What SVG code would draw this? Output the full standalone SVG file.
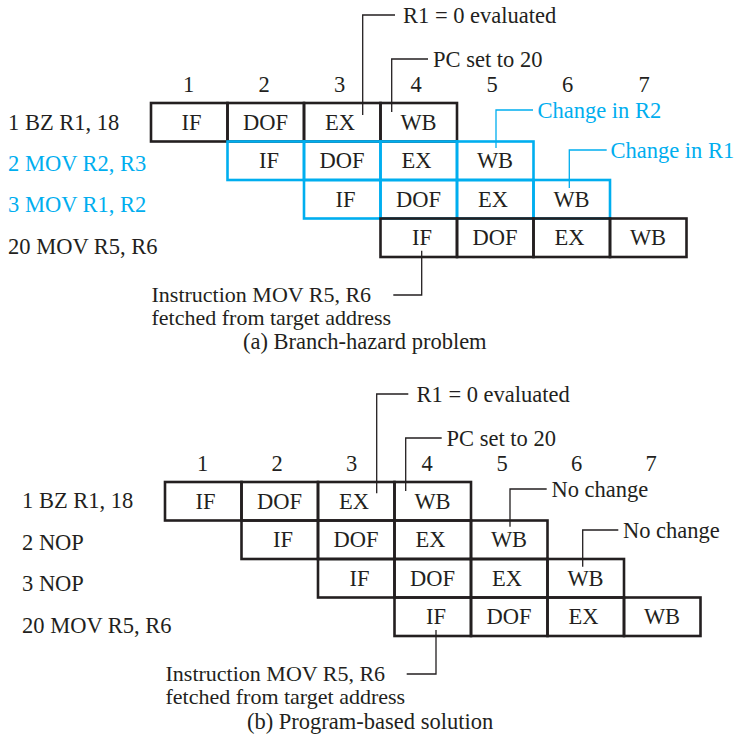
<svg xmlns="http://www.w3.org/2000/svg" width="735" height="743" viewBox="0 0 735 743">
<style>
.bg{fill:#ffffff}
.cell{fill:none;stroke:#231f20;stroke-width:2.6}
.cellb{fill:none;stroke:#00aeef;stroke-width:2.6}
.t{font-family:"Liberation Serif","Times New Roman",serif;font-size:22.5px;fill:#231f20}
.f{font-size:22px}
.m{text-anchor:middle}
.blue{fill:#00aeef}
.lead{fill:none;stroke:#231f20;stroke-width:1.3}
.leadb{fill:none;stroke:#00aeef;stroke-width:1.3}
</style>
<rect class="bg" x="0" y="0" width="735" height="743"/>

<!-- ============ (a) Branch-hazard problem ============ -->
<g id="a-cycles">
<text class="t m" x="188.5" y="92">1</text>
<text class="t m" x="264" y="92">2</text>
<text class="t m" x="339.5" y="92">3</text>
<text class="t m" x="416" y="92">4</text>
<text class="t m" x="492" y="92">5</text>
<text class="t m" x="567.5" y="92">6</text>
<text class="t m" x="644" y="92">7</text>
</g>

<g id="a-label1"><text class="t" x="8" y="129.5">1 BZ R1, 18</text></g>
<g id="a-label2"><text class="t blue" x="8" y="171">2 MOV R2, R3</text></g>
<g id="a-label3"><text class="t blue" x="8" y="212">3 MOV R1, R2</text></g>
<g id="a-label4"><text class="t" x="8" y="254">20 MOV R5, R6</text></g>

<g id="a-row1">
<rect class="cell" x="151" y="103" width="76.5" height="38.5"/>
<rect class="cell" x="227.5" y="103" width="76.5" height="38.5"/>
<rect class="cell" x="304" y="103" width="76.5" height="38.5"/>
<rect class="cell" x="380.5" y="103" width="76.5" height="38.5"/>
<text class="t m" x="191.5" y="129.75">IF</text>
<text class="t m" x="265.5" y="129.75">DOF</text>
<text class="t m" x="340" y="129.75">EX</text>
<text class="t m" x="418.5" y="129.75">WB</text>
</g>

<g id="a-row2">
<rect class="cellb" x="227.5" y="141.5" width="76.5" height="38.5"/>
<rect class="cellb" x="304" y="141.5" width="76.5" height="38.5"/>
<rect class="cellb" x="380.5" y="141.5" width="76.5" height="38.5"/>
<rect class="cellb" x="457" y="141.5" width="76.5" height="38.5"/>
<text class="t m" x="269" y="168.25">IF</text>
<text class="t m" x="342" y="168.25">DOF</text>
<text class="t m" x="416.5" y="168.25">EX</text>
<text class="t m" x="495" y="168.25">WB</text>
</g>

<g id="a-row3">
<rect class="cellb" x="304" y="180" width="76.5" height="38.5"/>
<rect class="cellb" x="380.5" y="180" width="76.5" height="38.5"/>
<rect class="cellb" x="457" y="180" width="76.5" height="38.5"/>
<rect class="cellb" x="533.5" y="180" width="76.5" height="38.5"/>
<text class="t m" x="345.5" y="206.75">IF</text>
<text class="t m" x="418.5" y="206.75">DOF</text>
<text class="t m" x="493" y="206.75">EX</text>
<text class="t m" x="571.5" y="206.75">WB</text>
</g>

<g id="a-row4">
<rect class="cell" x="380.5" y="218.5" width="76.5" height="38.5"/>
<rect class="cell" x="457" y="218.5" width="76.5" height="38.5"/>
<rect class="cell" x="533.5" y="218.5" width="76.5" height="38.5"/>
<rect class="cell" x="610" y="218.5" width="76.5" height="38.5"/>
<text class="t m" x="422" y="245.25">IF</text>
<text class="t m" x="495" y="245.25">DOF</text>
<text class="t m" x="569.5" y="245.25">EX</text>
<text class="t m" x="648" y="245.25">WB</text>
</g>

<g id="a-note-r1"><text class="t" x="403" y="23">R1 = 0 evaluated</text></g>
<g id="a-note-pc"><text class="t" x="433" y="66.5">PC set to 20</text></g>
<g id="a-note-r2"><text class="t blue" x="537.5" y="117.5">Change in R2</text></g>
<g id="a-note-r1c"><text class="t blue" x="610.5" y="157.5">Change in R1</text></g>
<g id="a-note-fetch">
<text class="t f" x="151.5" y="301.5">Instruction MOV R5, R6</text>
<text class="t f" x="151.5" y="325">fetched from target address</text>
</g>
<g id="a-caption"><text class="t" x="243" y="349">(a) Branch-hazard problem</text></g>

<!-- ============ (b) Program-based solution ============ -->
<g id="b-cycles">
<text class="t m" x="202.5" y="471">1</text>
<text class="t m" x="277" y="471">2</text>
<text class="t m" x="351.5" y="471">3</text>
<text class="t m" x="427" y="471">4</text>
<text class="t m" x="502" y="471">5</text>
<text class="t m" x="576.5" y="471">6</text>
<text class="t m" x="651" y="471">7</text>
</g>

<g id="b-label1"><text class="t" x="22" y="508">1 BZ R1, 18</text></g>
<g id="b-label2"><text class="t" x="22" y="550">2 NOP</text></g>
<g id="b-label3"><text class="t" x="22" y="591">3 NOP</text></g>
<g id="b-label4"><text class="t" x="22" y="633">20 MOV R5, R6</text></g>

<g id="b-row1">
<rect class="cell" x="165" y="482" width="76.5" height="38.5"/>
<rect class="cell" x="241.5" y="482" width="76.5" height="38.5"/>
<rect class="cell" x="318" y="482" width="76.5" height="38.5"/>
<rect class="cell" x="394.5" y="482" width="76.5" height="38.5"/>
<text class="t m" x="205.5" y="508.75">IF</text>
<text class="t m" x="279.5" y="508.75">DOF</text>
<text class="t m" x="354" y="508.75">EX</text>
<text class="t m" x="432.5" y="508.75">WB</text>
</g>

<g id="b-row2">
<rect class="cell" x="241.5" y="520.5" width="76.5" height="38.5"/>
<rect class="cell" x="318" y="520.5" width="76.5" height="38.5"/>
<rect class="cell" x="394.5" y="520.5" width="76.5" height="38.5"/>
<rect class="cell" x="471" y="520.5" width="76.5" height="38.5"/>
<text class="t m" x="283" y="547.25">IF</text>
<text class="t m" x="356" y="547.25">DOF</text>
<text class="t m" x="430.5" y="547.25">EX</text>
<text class="t m" x="509" y="547.25">WB</text>
</g>

<g id="b-row3">
<rect class="cell" x="318" y="559" width="76.5" height="38.5"/>
<rect class="cell" x="394.5" y="559" width="76.5" height="38.5"/>
<rect class="cell" x="471" y="559" width="76.5" height="38.5"/>
<rect class="cell" x="547.5" y="559" width="76.5" height="38.5"/>
<text class="t m" x="359.5" y="585.75">IF</text>
<text class="t m" x="432.5" y="585.75">DOF</text>
<text class="t m" x="507" y="585.75">EX</text>
<text class="t m" x="585.5" y="585.75">WB</text>
</g>

<g id="b-row4">
<rect class="cell" x="394.5" y="597.5" width="76.5" height="38.5"/>
<rect class="cell" x="471" y="597.5" width="76.5" height="38.5"/>
<rect class="cell" x="547.5" y="597.5" width="76.5" height="38.5"/>
<rect class="cell" x="624" y="597.5" width="76.5" height="38.5"/>
<text class="t m" x="436" y="624.25">IF</text>
<text class="t m" x="509" y="624.25">DOF</text>
<text class="t m" x="583.5" y="624.25">EX</text>
<text class="t m" x="662" y="624.25">WB</text>
</g>

<g id="b-note-r1"><text class="t" x="416.5" y="402">R1 = 0 evaluated</text></g>
<g id="b-note-pc"><text class="t" x="446.5" y="445.5">PC set to 20</text></g>
<g id="b-note-nc1"><text class="t" x="551.5" y="496.5">No change</text></g>
<g id="b-note-nc2"><text class="t" x="623" y="537.5">No change</text></g>
<g id="b-note-fetch">
<text class="t f" x="165.5" y="680.5">Instruction MOV R5, R6</text>
<text class="t f" x="165.5" y="704">fetched from target address</text>
</g>
<g id="b-caption"><text class="t" x="247" y="729">(b) Program-based solution</text></g>

<!-- ============ connectors (leader lines) ============ -->
<g id="connectors">
<polyline class="lead" points="362.7,115 362.7,15 395,15"/>
<polyline class="lead" points="391.7,112 391.7,59 428,59"/>
<polyline class="leadb" points="496,148 496,110 533,110"/>
<polyline class="leadb" points="569.3,188 569.3,150 606.7,150"/>
<polyline class="lead" points="421.7,250.7 421.7,295 393.3,295"/>

<polyline class="lead" points="376.7,493.3 376.7,394 408.3,394"/>
<polyline class="lead" points="405.7,491 405.7,438 441.7,438"/>
<polyline class="lead" points="510,526.7 510,489 546.7,489"/>
<polyline class="lead" points="582.7,566.7 582.7,530 618.3,530"/>
<polyline class="lead" points="436,630 436,674 406.7,674"/>
</g>
</svg>
